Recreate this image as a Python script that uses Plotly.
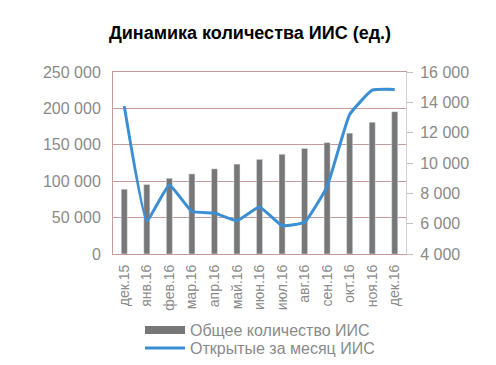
import plotly.graph_objects as go

months = ["дек.15", "янв.16", "фев.16", "мар.16", "апр.16", "май.16", "июн.16",
          "июл.16", "авг.16", "сен.16", "окт.16", "ноя.16", "дек.16"]
total_iis = [89000, 95500, 104000, 110000, 117000, 123500, 130000,
             137000, 145000, 153000, 166000, 181000, 195500]
opened_iis = [13750, 6200, 8550, 6800, 6700, 6200, 7100,
              5870, 6100, 8450, 13200, 14800, 14850]

grey_txt = "#8a8a8a"
red_line = "#c99a9a"

# page body has an 8px margin, so the figure is sized/positioned to compensate
W, H = 488, 357
OFF = 8

fig = go.Figure()
fig.add_trace(go.Bar(x=months, y=total_iis, name="Общее количество ИИС",
                     marker_color="#777777", width=0.27, showlegend=False))
fig.add_trace(go.Scatter(x=months, y=opened_iis, name="Открытые за месяц ИИС",
                         mode="lines", line=dict(color="#3a8fd4", width=3, shape="spline", smoothing=0.35),
                         yaxis="y2", showlegend=False))
# legend proxies
fig.add_trace(go.Scatter(x=[None], y=[None], mode="lines", name="Общее количество ИИС",
                         line=dict(color="#777777", width=8), legend="legend"))
fig.add_trace(go.Scatter(x=[None], y=[None], mode="lines", name="Открытые за месяц ИИС",
                         line=dict(color="#3a8fd4", width=3), legend="legend2"))

leg_common = dict(orientation="v", xref="container", xanchor="left", yref="container",
                  yanchor="middle", font=dict(size=16, color=grey_txt), itemwidth=40,
                  bgcolor="rgba(0,0,0,0)")

fig.update_layout(
    width=W, height=H,
    margin=dict(l=113 - OFF, r=496 - 406, t=72 - OFF, b=H - (254 - OFF), autoexpand=False),
    paper_bgcolor="white", plot_bgcolor="white",
    separators=", ",
    font=dict(family="Liberation Sans, Arial, sans-serif", color=grey_txt),
    title=dict(text="<b>Динамика количества ИИС (ед.)</b>", x=(250 - OFF) / W, xanchor="center",
               xref="container", y=1 - (33 - OFF) / H, yanchor="middle", yref="container",
               font=dict(size=18, color="black", family="Liberation Sans, Arial, sans-serif")),
    xaxis=dict(showline=True, linecolor=red_line, linewidth=1, mirror=True,
               tickangle=-90, tickfont=dict(size=14, color=grey_txt), ticks="",
               showgrid=False, automargin=False, ticklabelstandoff=4),
    yaxis=dict(range=[0, 250000], dtick=50000, tickformat=",", showgrid=True,
               gridcolor=red_line, gridwidth=1, showline=True, linecolor=red_line,
               tickfont=dict(size=16, color=grey_txt), ticks="", zeroline=False,
               automargin=False, ticklabelstandoff=8),
    yaxis2=dict(range=[4000, 16000], dtick=2000, tickformat=",", overlaying="y", side="right",
                showgrid=False, showline=True, linecolor="#d0d0d0", ticks="outside",
                ticklen=6, tickcolor="#c0c0c0",
                tickfont=dict(size=16, color=grey_txt), zeroline=False, automargin=False,
                ticklabelstandoff=4),
    legend=dict(x=(140 - OFF) / W, y=1 - (330 - OFF) / H, **leg_common),
    legend2=dict(x=(140 - OFF) / W, y=1 - (348 - OFF) / H, **leg_common),
    bargap=0.7,
)

fig.write_html("out.html")
